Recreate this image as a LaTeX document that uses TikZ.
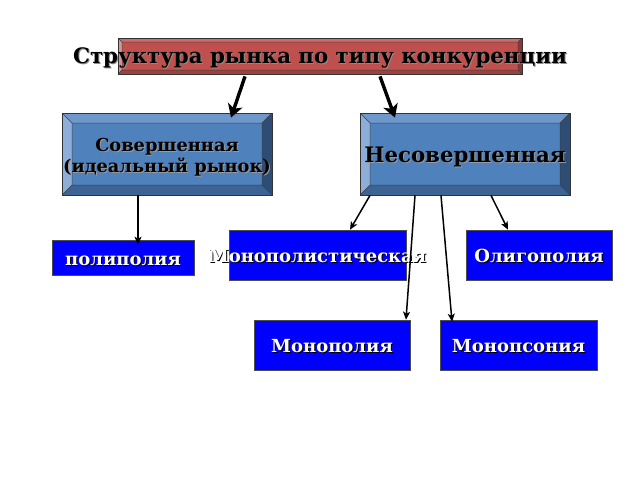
\documentclass[tikz,border=0pt]{standalone}
\usepackage{fontspec}
\setmainfont{DejaVu Serif}
\usetikzlibrary{arrows.meta}

\definecolor{facered}{HTML}{C0504D}
\definecolor{redtop}{HTML}{CD6A67}
\definecolor{redleft}{HTML}{D99694}
\definecolor{redright}{HTML}{8C3836}
\definecolor{redbottom}{HTML}{A0403D}
\definecolor{faceblue}{HTML}{4F81BD}
\definecolor{bluetop}{HTML}{6E97CB}
\definecolor{blueleft}{HTML}{8EAEDA}
\definecolor{blueright}{HTML}{2E4D76}
\definecolor{bluebottom}{HTML}{3C6394}
\definecolor{pureblue}{HTML}{0000FF}

% text with a small drop shadow
\newcommand{\shd}[2][black]{\leavevmode\rlap{\kern1pt\raisebox{-1pt}{\textcolor{#1}{#2}}}#2}

% bevel facets inside a node: depth, top, left, right, bottom
\newcommand{\bevelfaces}[5]{%
  \path (path picture bounding box.north west) coordinate (bnw)
        (path picture bounding box.north east) coordinate (bne)
        (path picture bounding box.south west) coordinate (bsw)
        (path picture bounding box.south east) coordinate (bse);
  \fill[#2] (bnw) -- (bne) -- ([shift={(-#1,#1)}]bne) -- ([shift={(#1,#1)}]bnw) -- cycle;
  \fill[#3] (bnw) -- ([shift={(#1,#1)}]bnw) -- ([shift={(#1,-#1)}]bsw) -- (bsw) -- cycle;
  \fill[#4] (bne) -- ([shift={(-#1,#1)}]bne) -- ([shift={(-#1,-#1)}]bse) -- (bse) -- cycle;
  \fill[#5] (bsw) -- ([shift={(#1,-#1)}]bsw) -- ([shift={(-#1,-#1)}]bse) -- (bse) -- cycle;
  \draw[black!75,line width=0.5pt] ([shift={(#1,#1)}]bnw) rectangle ([shift={(-#1,-#1)}]bse)
        (bnw) -- ([shift={(#1,#1)}]bnw) (bne) -- ([shift={(-#1,#1)}]bne)
        (bsw) -- ([shift={(#1,-#1)}]bsw) (bse) -- ([shift={(-#1,-#1)}]bse);
}

\tikzset{
  titlebox/.style={draw=black!80, line width=0.8pt, fill=facered, minimum width=404pt,
    minimum height=36pt, inner sep=0pt, font=\bfseries\fontsize{21.3}{23}\selectfont,
    text height=15pt, text depth=0pt,
    path picture={\bevelfaces{4}{redtop}{redleft}{redright}{redbottom}}},
  bevelbox/.style={draw=black!80, line width=0.8pt, fill=faceblue, minimum width=210pt,
    minimum height=82pt, inner sep=0pt, align=center,
    path picture={\bevelfaces{10}{bluetop}{blueleft}{blueright}{bluebottom}}},
  typebox/.style={draw=black!70, line width=0.6pt, fill=pureblue, text=white,
    minimum height=50pt, inner sep=0pt, font=\bfseries\fontsize{18}{20}\selectfont,
    text height=15pt, text depth=0pt},
  bigarrow/.style={-{Stealth[length=13pt,width=15pt,inset=3.5pt]}, line width=3.4pt},
  smallarrow/.style={-{Stealth[length=8pt,width=7pt,inset=2pt]}, line width=1.5pt}
}

\begin{document}
\begin{tikzpicture}[x=1pt,y=-1pt]
  \useasboundingbox (0,0) rectangle (640,480);

  \node[titlebox] (title) at (320,56)
    {\makebox[0pt]{\shd[black!45]{Структура рынка по типу конкуренции}}};

  \node[bevelbox, font=\bfseries\fontsize{17.8}{21}\selectfont,
    text height=37pt, text depth=0pt] (perf) at (167,154)
    {\makebox[0pt]{\shd[black!40]{Совершенная}}\\\makebox[0pt]{\shd[black!40]{(идеальный рынок)}}};
  \node[bevelbox, font=\bfseries\fontsize{21.3}{23}\selectfont,
    text height=17.4pt, text depth=0pt] (imperf) at (465,154)
    {\makebox[0pt]{\shd[black!40]{Несовершенная}}};

  \node[typebox, minimum width=142pt, minimum height=35pt] (poly) at (123,257.5)
    {\shd{полиполия}};
  \node[typebox, minimum width=177pt] (monopolist) at (317.5,255)
    {\makebox[0pt]{\shd{Монополистическая}}};
  \node[typebox, minimum width=146pt] (oligo) at (539,255) {\shd{Олигополия}};
  \node[typebox, minimum width=156pt] (monopoly) at (332,345) {\shd{Монополия}};
  \node[typebox, minimum width=157pt] (monopsony) at (518.5,345) {\shd{Монопсония}};

  \draw[bigarrow] ([xshift=-75pt,yshift=-2pt]title.south) -- ([xshift=64pt,yshift=-5pt]perf.north);
  \draw[bigarrow] ([xshift=60pt,yshift=-2pt]title.south) -- ([xshift=-70pt,yshift=-5pt]imperf.north);

  \draw[smallarrow] ([xshift=-29pt]perf.south) -- ([xshift=15pt,yshift=-5pt]poly.north);
  \draw[smallarrow] ([xshift=-95pt]imperf.south) -- ([xshift=32.5pt]monopolist.north);
  \draw[smallarrow] ([xshift=-50pt]imperf.south) -- ([xshift=74pt]monopoly.north);
  \draw[smallarrow] ([xshift=-24pt]imperf.south) -- ([xshift=-66.5pt,yshift=-2pt]monopsony.north);
  \draw[smallarrow] ([xshift=26pt]imperf.south) -- ([xshift=-31pt]oligo.north);
\end{tikzpicture}
\end{document}
